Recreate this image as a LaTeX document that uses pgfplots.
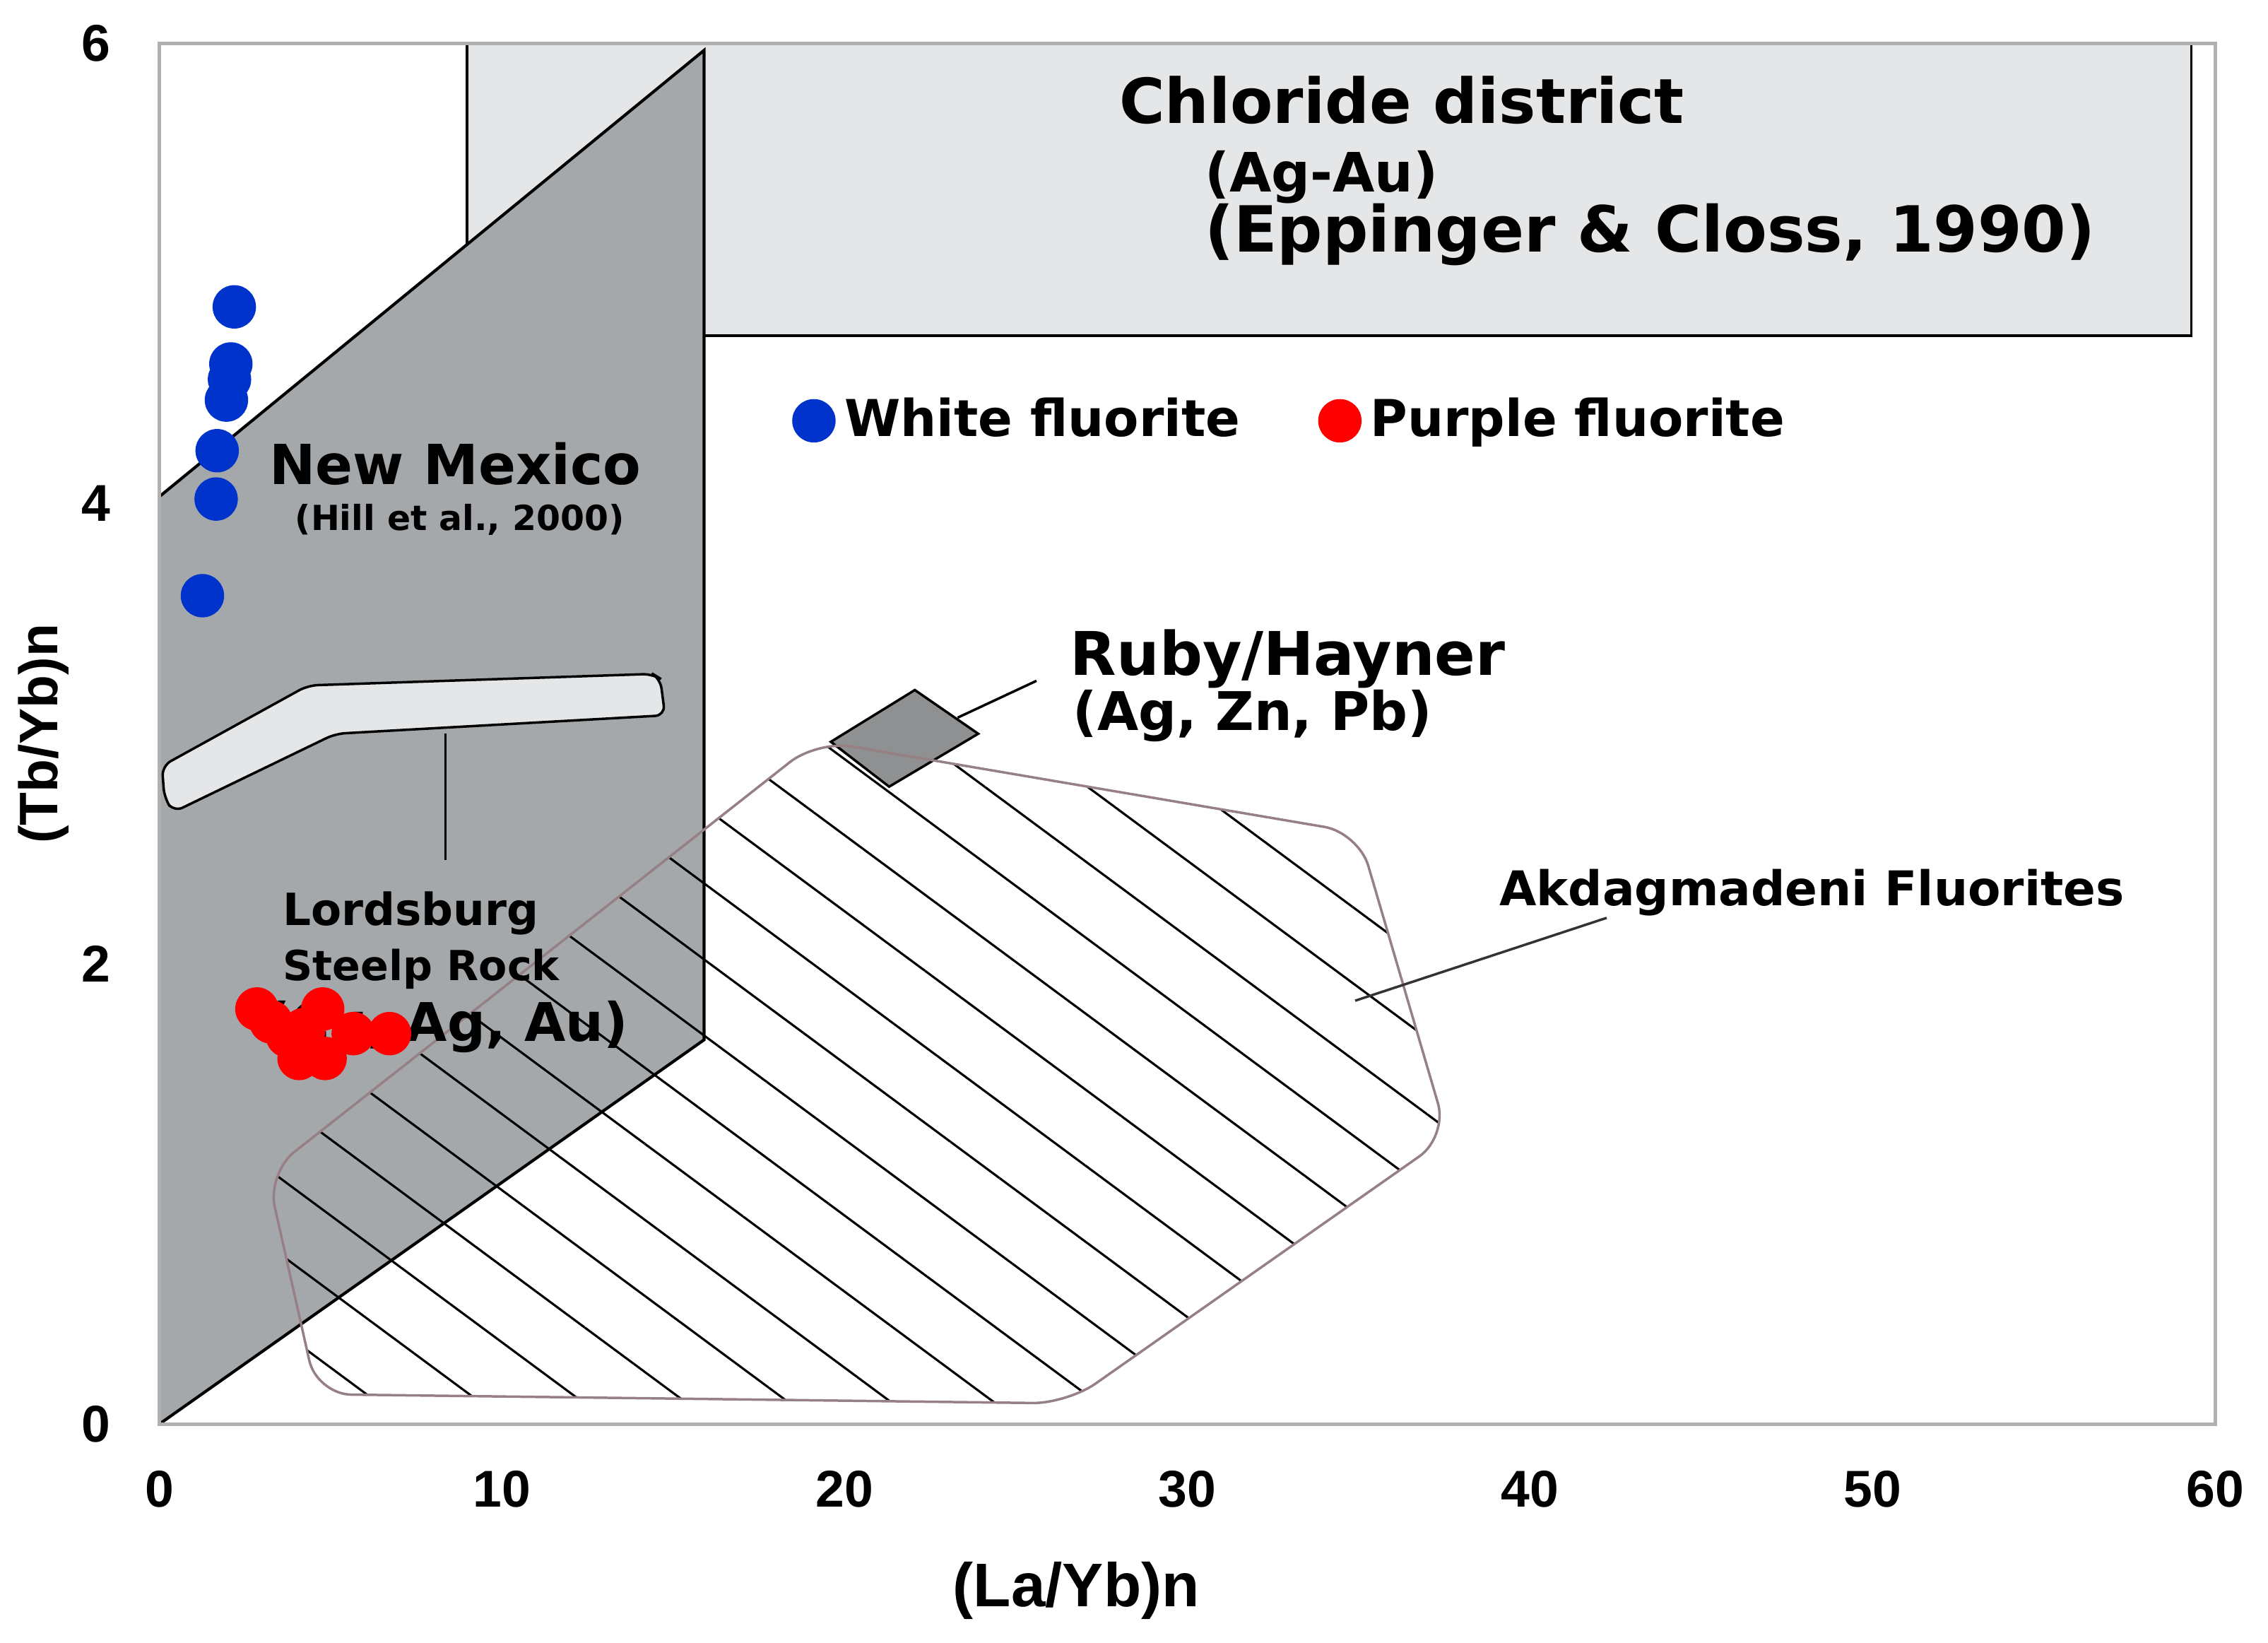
\documentclass[border=0pt]{standalone}
\usepackage{fontspec}
\setmainfont{Liberation Sans}
\newfontfamily\dv{DejaVu Sans}
\usepackage{pgfplots}
\pgfplotsset{compat=1.18}
\usetikzlibrary{patterns.meta}
\definecolor{ptblue}{RGB}{0,51,204}
\definecolor{ptred}{RGB}{255,0,0}
\definecolor{nmgray}{RGB}{165,168,171}
\definecolor{boxgray}{RGB}{228,230,232}
\definecolor{rhgray}{RGB}{143,144,146}
\definecolor{outl}{RGB}{150,128,132}
\definecolor{framec}{RGB}{178,175,175}
\newcommand\fs[1]{\fontsize{#1}{#1}\selectfont}
\pgfplotsset{dotlegend/.style={legend image code/.code={\draw[##1] plot coordinates {(0pt,0pt)};}}}
\begin{document}
\begin{tikzpicture}
\begin{axis}[
  scale only axis, width=417pt, height=280pt,
  xmin=0, xmax=60, ymin=0, ymax=6,
  xtick={0,10,...,60}, ytick={0,2,4,6},
  major tick length=0pt,
  axis line style={draw=framec, line width=0.7pt},
  axis on top,
  /pgf/number format/assume math mode=true,
  ticklabel style={font=\bfseries\fs{10.5}},
  xticklabel style={anchor=center, yshift=-13.2pt},
  yticklabel style={anchor=center, xshift=-12.8pt},
  xlabel={(La/Yb)n}, ylabel={(Tb/Yb)n},
  xlabel style={font=\bfseries\fs{12.5}, at={(axis description cs:0.446,0)}, anchor=center, yshift=-33.7pt},
  ylabel style={font=\bfseries\fs{11}, at={(axis description cs:0,0.5)}, anchor=center, yshift=23.5pt},
  legend style={at={(axis cs:18.5,4.36)}, anchor=west, draw=none, fill=none, inner sep=0pt, outer sep=0pt,
    font=\dv\bfseries\fs{10.3}, legend columns=2, /tikz/every even column/.append style={column sep=14pt}},
]
% Chloride district box
\addplot[fill=boxgray, draw=black, line width=0.5pt, forget plot] coordinates {(8.98,4.73) (8.98,6) (59.3,6) (59.3,4.73)} -- cycle;
% New Mexico field
\addplot[fill=nmgray, draw=black, line width=0.6pt, forget plot] coordinates {(0,0) (0,4.03) (15.9,5.97) (15.9,1.67)} -- cycle;
% Lordsburg band
\addplot[fill=boxgray, draw=black, line width=0.5pt, rounded corners=2pt, forget plot] coordinates {(0.08,2.86) (4.34,3.21) (14.4,3.26) (14.62,3.24) (14.76,3.08) (5.14,3.00) (0.42,2.66) (0.15,2.72)} -- cycle;
\addplot[black, line width=0.5pt, forget plot] coordinates {(8.35,3.0) (8.35,2.45)};
% Ruby/Hayner
\addplot[fill=rhgray, draw=black, line width=0.5pt, forget plot] coordinates {(19.6,2.965) (22.05,3.19) (23.9,3.0) (21.3,2.77)} -- cycle;
% Akdagmadeni field
\addplot[draw=outl, line width=0.5pt, pattern={Lines[angle=-36.5,distance=12.4pt,yshift=-2.6pt,line width=0.45pt]}, pattern color=black, rounded corners=7pt, forget plot]
  coordinates {(3.15,1.09) (19.2,2.97) (35.0,2.57) (37.6,1.25) (26.5,0.09) (4.6,0.13)} -- cycle;
\addplot[black, line width=0.5pt, forget plot] coordinates {(23.3,3.07) (25.6,3.23)};
\addplot[black!80, line width=0.5pt, forget plot] coordinates {(34.9,1.84) (42.24,2.20)};
% labels
\node[font=\dv\bfseries\fs{12.6}, anchor=mid] at (axis cs:36.26,5.71) {Chloride district};
\node[font=\dv\bfseries\fs{11}, anchor=mid west, inner sep=0pt] at (axis cs:30.48,5.41) {(Ag-Au)};
\node[font=\dv\bfseries\fs{12.9}, anchor=mid west, inner sep=0pt] at (axis cs:30.48,5.15) {(Eppinger \& Closs, 1990)};
\node[font=\dv\bfseries\fs{11.2}, anchor=mid] at (axis cs:8.64,4.14) {New Mexico};
\node[font=\dv\bfseries\fs{7}, anchor=mid] at (axis cs:8.77,3.94) {(Hill et al., 2000)};
\node[font=\dv\bfseries\fs{9}, anchor=mid west, inner sep=0pt] at (axis cs:3.58,2.225) {Lordsburg};
\node[font=\dv\bfseries\fs{8.4}, anchor=mid west, inner sep=0pt] at (axis cs:3.58,1.985) {Steelp Rock};
\node[font=\dv\bfseries\fs{10.8}, anchor=mid east, inner sep=0pt] at (axis cs:13.7,1.72) {(Cu, Ag, Au)};
\node[font=\dv\bfseries\fs{12.2}, anchor=mid west, inner sep=0pt] at (axis cs:26.56,3.31) {Ruby/Hayner};
\node[font=\dv\bfseries\fs{10.8}, anchor=mid west, inner sep=0pt] at (axis cs:26.64,3.07) {(Ag, Zn, Pb)};
\node[font=\dv\bfseries\fs{9.7}, anchor=mid west, inner sep=0pt] at (axis cs:39.08,2.31) {Akdagmadeni Fluorites};
% data
\addplot[only marks, mark=*, mark size=4.2pt, draw=ptblue, fill=ptblue, dotlegend]
  coordinates {(2.19,4.855) (2.09,4.607) (2.05,4.54) (1.96,4.45) (1.69,4.23) (1.66,4.02) (1.26,3.60)};
\addlegendentry{White fluorite}
\addplot[only marks, mark=*, mark size=4.2pt, draw=ptred, fill=ptred, dotlegend]
  coordinates {(2.85,1.804) (3.26,1.748) (3.74,1.687) (4.22,1.715) (4.77,1.804) (4.08,1.589) (4.84,1.589) (5.66,1.697) (6.72,1.697)};
\addlegendentry{Purple fluorite}
\end{axis}
\pgfresetboundingbox
\path ([shift={(-32.3pt,-44.3pt)}]current axis.south west) rectangle ([shift={(10.7pt,8.8pt)}]current axis.north east);
\end{tikzpicture}
\end{document}
